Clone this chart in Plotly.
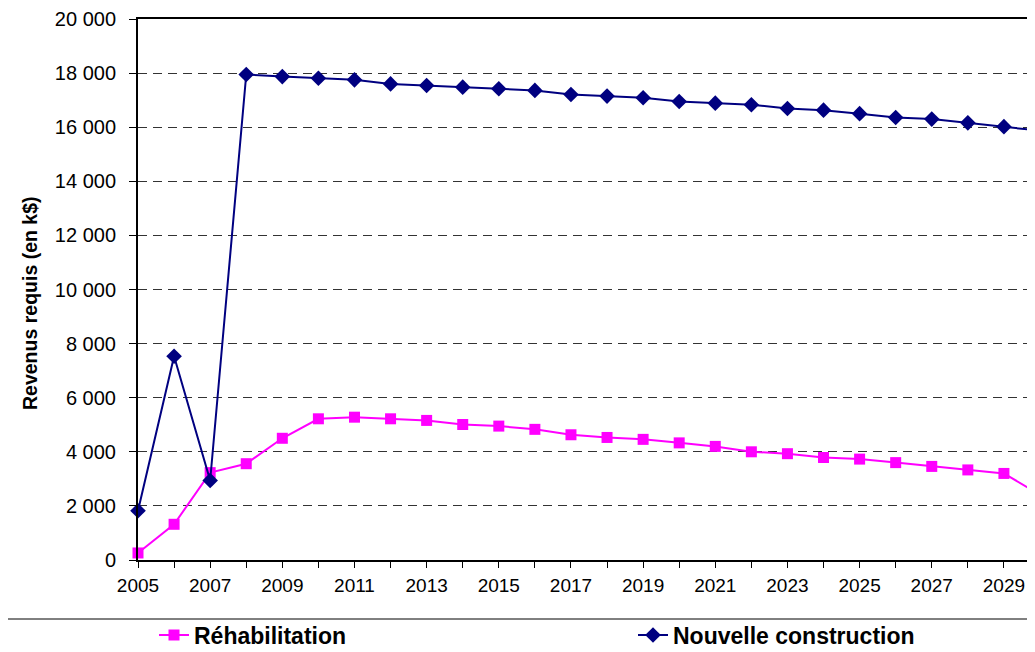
import plotly.graph_objects as go

years = list(range(2005, 2031))
rehabilitation = [260, 1320, 3230, 3560, 4500, 5220, 5280, 5220, 5160, 5010, 4950, 4830, 4630,
                  4530, 4460, 4330, 4200, 4000, 3930, 3790, 3730, 3600, 3460, 3330, 3200, 2410]
nouvelle = [1820, 7530, 2940, 17950, 17870, 17810, 17750, 17600, 17540, 17480, 17420, 17360, 17210,
            17150, 17090, 16950, 16890, 16830, 16690, 16630, 16500, 16360, 16300, 16160, 16020, 15870]
y_ticks = list(range(0, 20001, 2000))
x_tick_labels = [str(y) if (y - 2005) % 2 == 0 else "" for y in years[:-1]]
y_title = "Revenus requis (en k$)"

FONT = "Liberation Sans, Arial, sans-serif"

# page is shown with an 8px body margin, so figure coords = page coords - 8
OFF = 8
W, H = 1029, 644
L, R, T, B = 138 - OFF, 0, 19 - OFF, H - (560 - OFF)
pw, ph = W - L - R, H - T - B
YEAR_PX = 36.08
x_right = 2005 + pw / YEAR_PX


def px_x(p):
    """page pixel x -> paper fraction"""
    return (p - OFF - L) / pw


def px_y(p):
    """page pixel y -> paper fraction"""
    return (H - B - (p - OFF)) / ph


fig = go.Figure()
fig.add_trace(go.Scatter(
    x=years, y=rehabilitation, name="Réhabilitation", mode="lines+markers",
    line=dict(color="#FF00FF", width=2),
    marker=dict(symbol="square", size=11, color="#FF00FF"),
    cliponaxis=False, legend="legend",
))
fig.add_trace(go.Scatter(
    x=years, y=nouvelle, name="Nouvelle construction", mode="lines+markers",
    line=dict(color="#000080", width=2),
    marker=dict(symbol="diamond", size=12, color="#000080"),
    cliponaxis=False, legend="legend2",
))

legend_font = dict(family=FONT, size=23, color="black", weight="bold")
fig.update_layout(
    width=W, height=H,
    margin=dict(l=L, r=R, t=T, b=B, pad=0, autoexpand=False),
    paper_bgcolor="white", plot_bgcolor="white",
    separators=", ",
    font=dict(family=FONT, size=19, color="black"),
    showlegend=True,
    legend=dict(
        orientation="h", x=px_x(154), xanchor="left", y=px_y(635), yanchor="middle",
        font=legend_font, bgcolor="rgba(0,0,0,0)", borderwidth=0,
    ),
    legend2=dict(
        orientation="h", x=px_x(633), xanchor="left", y=px_y(635), yanchor="middle",
        font=legend_font, bgcolor="rgba(0,0,0,0)", borderwidth=0,
    ),
    shapes=[dict(
        type="rect", xref="paper", yref="paper",
        x0=px_x(7), x1=px_x(1070), y0=px_y(619), y1=px_y(720),
        line=dict(color="black", width=1), fillcolor="rgba(0,0,0,0)", layer="below",
    )],
    annotations=[dict(
        text=y_title, textangle=-90, xref="paper", yref="paper",
        x=px_x(30), y=px_y(303), xanchor="center", yanchor="middle", showarrow=False,
        font=dict(family=FONT, size=19.5, weight="bold", color="black"),
    )],
)

fig.update_xaxes(
    range=[2005, x_right], tickvals=years[:-1], ticktext=x_tick_labels,
    showgrid=False, zeroline=False, automargin=False,
    showline=True, linecolor="black", linewidth=2, mirror=True,
    ticks="outside", ticklen=6, tickcolor="black", tickwidth=1,
    tickfont=dict(family=FONT, size=19), ticklabelstandoff=1,
)
fig.update_yaxes(
    range=[0, 20000], tickvals=y_ticks, tickformat=",d",
    showgrid=True, gridcolor="#333333", gridwidth=1, griddash="9px,6px",
    zeroline=False, automargin=False,
    showline=True, linecolor="black", linewidth=2, mirror=True,
    ticks="outside", ticklen=7, tickcolor="black", tickwidth=1,
    tickfont=dict(family=FONT, size=20), ticklabelstandoff=9,
)

fig.write_html("out.html")
